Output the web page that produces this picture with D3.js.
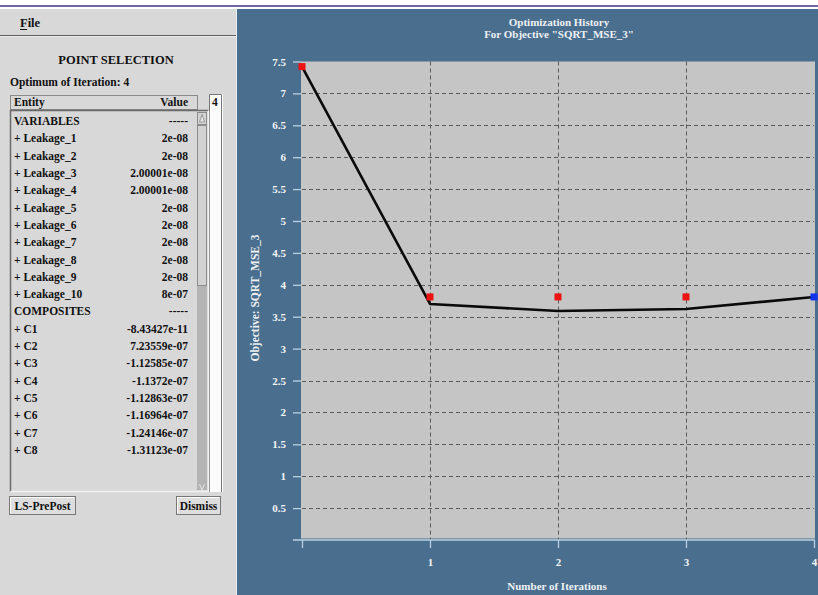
<!DOCTYPE html>
<html><head><meta charset="utf-8">
<script src="https://cdn.jsdelivr.net/npm/d3@7"></script>
<style>
html,body{margin:0;padding:0;background:#fff;overflow:hidden}
svg text{font-family:"Liberation Serif","Times New Roman",serif;font-weight:bold}
</style></head>
<body>
<svg id="c" width="818" height="595"></svg>
<script>
// ---- data ----
const iterations = [0, 1, 2, 3, 4];
const lineValues = [7.42, 3.70, 3.59, 3.62, 3.81];
const pointValues = [7.42, 3.81, 3.81, 3.81, 3.81];
const optimumIteration = 4;
const yTicks = [0.5, 1, 1.5, 2, 2.5, 3, 3.5, 4, 4.5, 5, 5.5, 6, 6.5, 7, 7.5];
const xTicks = [1, 2, 3, 4];
const titleLines = ["Optimization History", "For Objective \"SQRT_MSE_3\""];
const xTitle = "Number of Iterations";
const yTitle = "Objective: SQRT_MSE_3";
const entityNames = ["VARIABLES", "+ Leakage_1", "+ Leakage_2", "+ Leakage_3", "+ Leakage_4", "+ Leakage_5",
  "+ Leakage_6", "+ Leakage_7", "+ Leakage_8", "+ Leakage_9", "+ Leakage_10", "COMPOSITES",
  "+ C1", "+ C2", "+ C3", "+ C4", "+ C5", "+ C6", "+ C7", "+ C8"];
const entityValues = ["-----", "2e-08", "2e-08", "2.00001e-08", "2.00001e-08", "2e-08",
  "2e-08", "2e-08", "2e-08", "2e-08", "8e-07", "-----",
  "-8.43427e-11", "7.23559e-07", "-1.12585e-07", "-1.1372e-07", "-1.12863e-07", "-1.16964e-07", "-1.24146e-07", "-1.31123e-07"];

// ---- drawing ----
const svg = d3.select("#c");
const W = 818, H = 595;
svg.append("rect").attr("width", W).attr("height", H).attr("fill", "#fff");
svg.append("line").attr("x1", 0).attr("x2", W).attr("y1", 6).attr("y2", 6)
  .attr("stroke", "#3f3482").attr("stroke-width", 1.5);

// left panel
const lp = svg.append("g");
const panelBg = "#d8d8d8";
lp.append("rect").attr("x", 0).attr("y", 9).attr("width", 236).attr("height", H - 9).attr("fill", panelBg);
// menubar
lp.append("line").attr("x1", 0).attr("x2", 236).attr("y1", 35.5).attr("y2", 35.5).attr("stroke", "#5e5e5e");
lp.append("line").attr("x1", 0).attr("x2", 236).attr("y1", 36.5).attr("y2", 36.5).attr("stroke", "#ececec");
lp.append("text").attr("x", 20).attr("y", 27).attr("font-size", 12.5).attr("fill", "#111").text("File");
lp.append("line").attr("x1", 20).attr("x2", 27).attr("y1", 29.5).attr("y2", 29.5).attr("stroke", "#111");
lp.append("text").attr("x", 116).attr("y", 64).attr("text-anchor", "middle").attr("font-size", 12.5).attr("fill", "#111").text("POINT SELECTION");
lp.append("text").attr("x", 10).attr("y", 86).attr("font-size", 11.5).attr("fill", "#111").text("Optimum of Iteration: " + optimumIteration);

// white column with iteration number
lp.append("rect").attr("x", 209).attr("y", 94).attr("width", 14).attr("height", 398).attr("fill", "#fbfbfb");
lp.append("path").attr("d", "M209.5,492V94.5H221.5V492").attr("fill", "none").attr("stroke", "#777");
lp.append("text").attr("x", 212).attr("y", 106).attr("font-size", 11.5).attr("fill", "#111").text(optimumIteration);

// header
lp.append("rect").attr("x", 10.5).attr("y", 95.5).attr("width", 187).attr("height", 14).attr("fill", panelBg).attr("stroke", "#8a8a8a");
lp.append("text").attr("x", 14).attr("y", 106).attr("font-size", 11.5).attr("fill", "#111").text("Entity");
lp.append("text").attr("x", 188).attr("y", 106).attr("text-anchor", "end").attr("font-size", 11.5).attr("fill", "#111").text("Value");

// list box
lp.append("rect").attr("x", 10.5).attr("y", 110.5).attr("width", 198).attr("height", 381).attr("fill", panelBg);
lp.append("path").attr("d", "M10.5,491.5V110.5H208.5").attr("fill", "none").attr("stroke", "#6a6a6a").attr("stroke-width", 1.5);
lp.append("path").attr("d", "M208.5,110.5V491.5H10.5").attr("fill", "none").attr("stroke", "#f2f2f2").attr("stroke-width", 1.5);
// scrollbar
lp.append("rect").attr("x", 197).attr("y", 112).attr("width", 10).attr("height", 378).attr("fill", "#b4b4b4");
lp.append("rect").attr("x", 197.5).attr("y", 125.5).attr("width", 9).attr("height", 160).attr("fill", "#d2d2d2").attr("stroke", "#8c8c8c");
lp.append("rect").attr("x", 197.5).attr("y", 112.5).attr("width", 9).attr("height", 12).attr("fill", "#d2d2d2").attr("stroke", "#8c8c8c");
lp.append("path").attr("d", "M199.5,122L202,114.5L204.5,122Z").attr("fill", "#e8e8e8").attr("stroke", "#888").attr("stroke-width", 0.8);
lp.append("path").attr("d", "M199.5,484L202,490L204.5,484").attr("fill", "none").attr("stroke", "#eee").attr("stroke-width", 0.8);

const rowY = d3.scaleLinear().domain([0, entityNames.length - 1]).range([121, 450]);
const rows = lp.append("g").selectAll("g").data(entityNames).join("g")
  .attr("transform", (d, i) => `translate(0,${rowY(i) + 4})`);
rows.append("text").attr("x", 14).attr("font-size", 11.5).attr("fill", "#111").text(d => d);
rows.append("text").attr("x", 188).attr("text-anchor", "end").attr("font-size", 11.5).attr("fill", "#111")
  .text((d, i) => entityValues[i]);

// buttons
function button(x, w, label) {
  lp.append("rect").attr("x", x + 0.5).attr("y", 496.5).attr("width", w).attr("height", 18).attr("fill", "#dedede").attr("stroke", "#777");
  lp.append("path").attr("d", `M${x + 1.5},${513.5}V${497.5}H${x + w - 0.5}`).attr("fill", "none").attr("stroke", "#fff");
  lp.append("text").attr("x", x + w / 2 + 0.5).attr("y", 509.5).attr("text-anchor", "middle").attr("font-size", 11.5).attr("fill", "#111").text(label);
}
button(9, 66, "LS-PrePost");
button(176, 44, "Dismiss");

// right panel
const blue = "#4a6e8d";
svg.append("line").attr("x1", 236.5).attr("x2", 236.5).attr("y1", 9).attr("y2", H).attr("stroke", "#e9eef2");
svg.append("rect").attr("x", 237).attr("y", 9).attr("width", W - 237).attr("height", H - 9).attr("fill", blue);

const x = d3.scaleLinear().domain([0, 4]).range([302, 814]);
const y = d3.scaleLinear().domain([0, 7.5]).range([540, 61.5]);

svg.append("rect").attr("x", x(0) - 1).attr("y", y(7.5)).attr("width", x(4) - x(0) + 2).attr("height", y(0) - 1.5 - y(7.5))
  .attr("fill", "#c5c5c5");

// grid
const grid = svg.append("g").attr("stroke", "#5a5a5a").attr("stroke-width", 1).attr("stroke-dasharray", "4,3");
grid.selectAll(".hg").data(yTicks.filter(t => t < 7.5)).join("line")
  .attr("x1", x(0)).attr("x2", x(4)).attr("y1", d => Math.round(y(d)) + 0.5).attr("y2", d => Math.round(y(d)) + 0.5);
grid.selectAll(".vg").data(xTicks.filter(t => t < 4)).join("line")
  .attr("y1", y(7.5)).attr("y2", y(0)).attr("x1", d => Math.round(x(d)) + 0.5).attr("x2", d => Math.round(x(d)) + 0.5);

// axes
const axisColor = "#b9d3e6";
const yAxis = svg.append("g").attr("transform", `translate(${x(0) - 1},0)`)
  .call(d3.axisLeft(y).tickValues(yTicks).tickSize(8).tickPadding(7).tickFormat(d3.format("")));
yAxis.select(".domain").remove();
yAxis.selectAll("line").attr("stroke", axisColor).attr("stroke-width", 1.3);
yAxis.selectAll("text").attr("fill", "#f2f4f6").attr("font-size", 11).attr("font-family", "Liberation Serif").attr("font-weight", "bold");

const xAxis = svg.append("g").attr("transform", `translate(0,${y(0)})`)
  .call(d3.axisBottom(x).tickValues([0].concat(xTicks)).tickSize(8).tickPadding(10).tickFormat(d => d === 0 ? "" : d));
xAxis.select(".domain").remove();
xAxis.selectAll("line").attr("stroke", axisColor).attr("stroke-width", 1.3);
xAxis.selectAll("text").attr("fill", "#f2f4f6").attr("font-size", 11).attr("font-family", "Liberation Serif").attr("font-weight", "bold");
svg.append("line").attr("x1", x(0) - 9).attr("x2", x(4) + 1).attr("y1", y(0)).attr("y2", y(0)).attr("stroke", axisColor).attr("stroke-width", 1.5);

// titles
svg.append("g").selectAll("text").data(titleLines).join("text")
  .attr("x", 559).attr("y", (d, i) => 26 + i * 12).attr("text-anchor", "middle")
  .attr("font-size", 11).attr("fill", "#eef1f4").text(d => d);
svg.append("text").attr("x", 557).attr("y", 590).attr("text-anchor", "middle").attr("font-size", 11).attr("fill", "#eef1f4").text(xTitle);
svg.append("text").attr("transform", "translate(259,298) rotate(-90)").attr("text-anchor", "middle")
  .attr("font-size", 11.5).attr("fill", "#eef1f4").text(yTitle);

// data line
svg.append("path").datum(iterations)
  .attr("d", d3.line().x(d => x(d)).y((d, i) => y(lineValues[i])))
  .attr("fill", "none").attr("stroke", "#0a0a0a").attr("stroke-width", 2.6).attr("stroke-linejoin", "round");

// points
svg.append("g").selectAll("rect").data(iterations).join("rect")
  .attr("x", d => x(d) - 3.5).attr("y", (d, i) => y(pointValues[i]) - 3.5).attr("width", 7).attr("height", 7)
  .attr("fill", d => d === optimumIteration ? "#1133ee" : "#ee1111");
</script>
</body></html>
